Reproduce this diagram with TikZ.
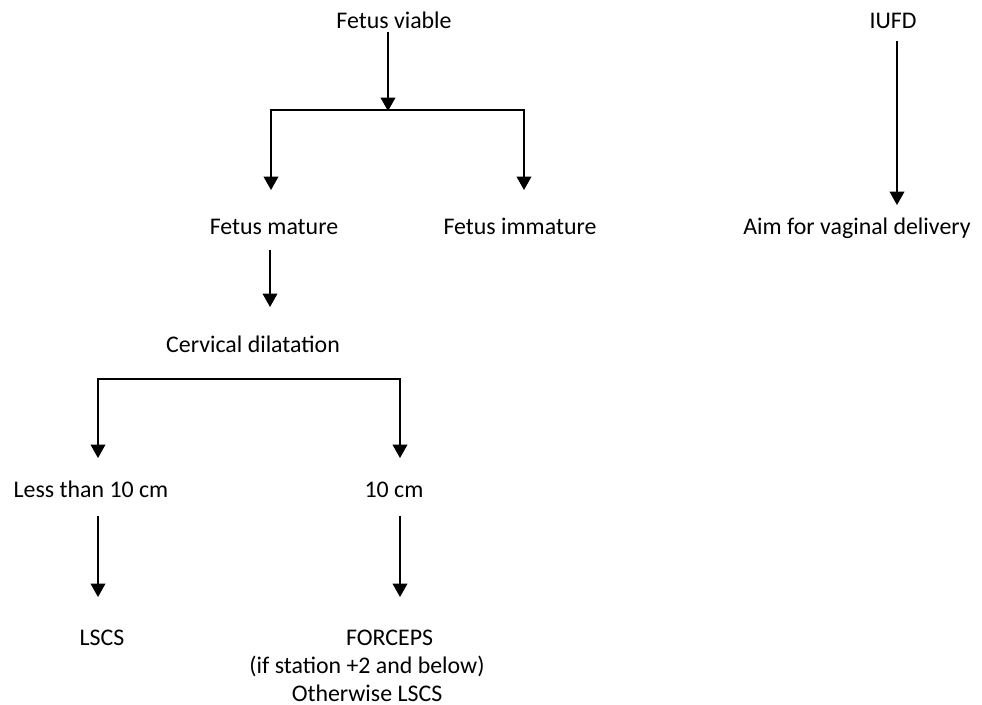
\documentclass[tikz,border=0pt]{standalone}
\usepackage{fontspec}
\setmainfont{Carlito}
\usetikzlibrary{arrows.meta}
\begin{document}
\begin{tikzpicture}[x=0.75pt,y=-0.75pt,
  lbl/.style={font=\fontsize{17.9pt}{21pt}\selectfont, inner sep=0pt, align=center, anchor=base},
  link/.style={line width=1.1pt, line join=miter},
  arr/.style={link, -{Triangle[width=11pt,length=10pt]}},
  twoarr/.style={link, {Triangle[width=11pt,length=10pt]}-{Triangle[width=11pt,length=10pt]}}]
\useasboundingbox (0,0) rectangle (982,705);

% labels, placed by their (last) baselines
\node[lbl] (fv)      at (394,29)  {Fetus viable};
\node[lbl] (iufd)    at (893,29)  {IUFD};
\node[lbl] (fm)      at (274,235) {Fetus mature};
\node[lbl] (fi)      at (520,235) {Fetus immature};
\node[lbl] (aim)     at (857,235) {Aim for vaginal delivery};
\node[lbl] (cd)      at (253,353) {Cervical dilatation};
\node[lbl] (lt)      at (91,498)  {Less than 10 cm};
\node[lbl] (ten)     at (394,498) {10 cm};
\node[lbl] (lscs)    at (102,645) {LSCS};
\node[lbl] (forceps) at (367,701) {\hspace*{34pt}FORCEPS\\(if station +2 and below)\\Otherwise LSCS};

% connector end points
\coordinate (fv-out)   at (388,32);
\coordinate (fv-bar)   at (388,111);
\coordinate (barA-l)   at (271,110);
\coordinate (barA-r)   at (524,110);
\coordinate (fm-in)    at (271,190);
\coordinate (fi-in)    at (524,190);
\coordinate (fm-out)   at (270,250);
\coordinate (cd-in)    at (270,307);
\coordinate (barB-l)   at (98,379);
\coordinate (barB-r)   at (400,379);
\coordinate (lt-in)    at (98,458);
\coordinate (ten-in)   at (400,458);
\coordinate (lt-out)   at (98,516);
\coordinate (ten-out)  at (400,516);
\coordinate (lscs-in)  at (98,597);
\coordinate (forc-in)  at (400,597);
\coordinate (iufd-out) at (897,41);
\coordinate (aim-in)   at (897,205);

% connectors
\draw[arr] (fv-out) -- (fv-bar);
\draw[twoarr] (fm-in) -- (barA-l) -- (barA-r) -- (fi-in);
\draw[arr] (fm-out) -- (cd-in);
\draw[twoarr] (lt-in) -- (barB-l) -- (barB-r) -- (ten-in);
\draw[arr] (lt-out) -- (lscs-in);
\draw[arr] (ten-out) -- (forc-in);
\draw[arr] (iufd-out) -- (aim-in);
\end{tikzpicture}
\end{document}
